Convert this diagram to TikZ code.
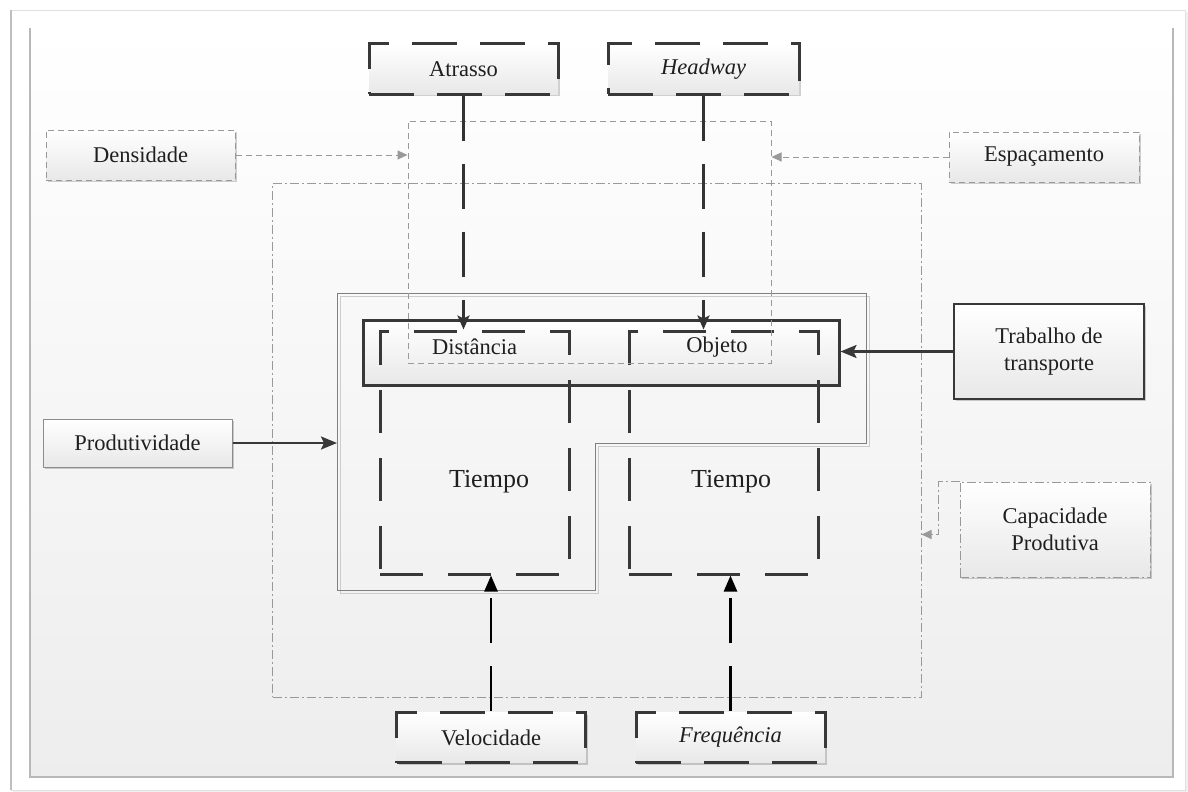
\documentclass[tikz,border=0pt]{standalone}
\usepackage{fontspec}
\setmainfont{Liberation Serif}
\usetikzlibrary{arrows.meta,shadows}
\begin{document}
\begin{tikzpicture}[x=1pt,y=-1pt,
  txt/.style={font=\fontsize{22.5}{27}\selectfont, text=black!88, align=center},
  big/.style={font=\fontsize{26}{30}\selectfont, text=black!88},
  boxfill/.style={top color=white, bottom color=black!9},
  shad/.style={drop shadow={shadow xshift=2pt, shadow yshift=-2pt, opacity=0.18, fill=black}},
  thickdash/.style={draw=black!78, line width=3pt, dash pattern=on 45pt off 23pt, boxfill, shad,
     minimum width=189pt, minimum height=50pt, inner sep=0pt, txt},
  graydash/.style={draw=black!40, line width=1pt, dash pattern=on 6pt off 4pt},
  dashdot/.style={draw=black!40, line width=1pt, dash pattern=on 9pt off 3pt on 2pt off 3pt},
  graybox/.style={graydash, boxfill, shad, minimum width=189pt, minimum height=50pt, inner sep=0pt, txt},
  solidbox/.style={draw=black!45, line width=1pt, boxfill, shad, minimum width=189pt, minimum height=48pt, inner sep=0pt, txt},
  longconn/.style={draw=black!80, line width=2.5pt, dash pattern=on 45pt off 23pt,
     -{Stealth[length=14pt,width=12pt,inset=3pt]}},
  upconn/.style={draw=black, line width=2.5pt, dash pattern=on 45pt off 23pt,
     -{Triangle[length=16pt,width=13pt]}},
  grayconn/.style={graydash, -{Triangle[length=10pt,width=9pt]}},
  dashdotconn/.style={dashdot, -{Triangle[length=10pt,width=9pt]}},
  solidconn/.style={draw=black!78, line width=2.2pt, -{Stealth[length=16pt,width=13pt,inset=3pt]}}
]
\useasboundingbox (0,0) rectangle (1188,792);
% page frames
\fill[white] (0,0) rectangle (1188,792);
\fill[black!6] (13,12) rectangle (1188,792);
\fill[white,draw=black!12] (11,10) rectangle (1185,790);
\draw[black!25, line width=2.5pt] (11,10) -- (11,790);
\shade[top color=white, bottom color=black!7] (30,28) rectangle (1173,777);
\draw[black!28, line width=1.2pt] (30,28) -- (30,777) -- (1173,777) -- (1173,28);

% large dash-dot region
\node[dashdot, minimum width=648.5pt, minimum height=514pt, inner sep=0pt] (cbox) at (596.75,440) {};

% thin L-shaped outline
\draw[black!20, line width=1pt] (340,296) -- (869,296) -- (869,446) -- (598,446) -- (598,593) -- (340,593) -- cycle;
\draw[black!50, line width=0.9pt] (337,293) -- (866,293) -- (866,443) -- (595,443) -- (595,590) -- (337,590) -- cycle;
\coordinate (lw) at (337,444);

% thick band
\node[draw=black!78, line width=3pt, boxfill, minimum width=476pt, minimum height=65pt, inner sep=0pt] (band) at (601,352.5) {};

% dashed time boxes
\node[draw=black!78, line width=3pt, dash pattern=on 43pt off 25pt, minimum width=189pt, minimum height=243pt, inner sep=0pt] (dt) at (474.5,452.5) {};
\node[draw=black!78, line width=3pt, dash pattern=on 43pt off 25pt, minimum width=189pt, minimum height=243pt, inner sep=0pt] (ob) at (723.5,452.5) {};
\node[txt] (dtl) at (474.5,347) {Distância};
\node[txt] (obl) at (717,347) {Objeto};
\node[big] (t1) at (489,482) {Tiempo};
\node[big] (t2) at (731,482) {Tiempo};

% gray dashed region
\node[graydash, minimum width=363pt, minimum height=242pt, inner sep=0pt] (gbox) at (589.5,242) {};

% top boxes
\node[thickdash] (atr) at (463.5,69) {Atrasso};
\node[thickdash, minimum width=191pt] (hw) at (703.5,69) {\itshape Headway};
% side boxes
\node[graybox] (den) at (140.5,155) {Densidade};
\node[graybox, minimum width=190pt] (esp) at (1044,157) {Espaçamento};
\node[solidbox] (prod) at (137.5,443) {Produtividade};
\node[draw=black!78, line width=2.5pt, boxfill, shad, minimum width=190pt, minimum height=95pt, inner sep=0pt, txt] (trab) at (1049,351.5) {Trabalho de\\transporte};
\node[dashdot, boxfill, shad, minimum width=190pt, minimum height=95pt, inner sep=0pt, txt] (cap) at (1055,529.5) {Capacidade\\Produtiva};
% bottom boxes
\node[thickdash] (vel) at (491,737.5) {Velocidade};
\node[thickdash] (freq) at (730.5,737.5) {\itshape Frequência};

% connectors
\draw[longconn] (atr.south) -- (atr.south |- dt.north);
\draw[longconn] (hw.south) -- (hw.south |- ob.north);
\draw[upconn] (vel.north) -- (vel.north |- dt.south);
\draw[upconn] (freq.north) -- (freq.north |- ob.south);
\draw[grayconn] (den.east) -- (den.east -| gbox.west);
\draw[grayconn] (esp.west) -- (esp.west -| gbox.east);
\draw[solidconn] (prod.east) -- (prod.east -| lw);
\draw[solidconn] (trab.west) -- (trab.west -| band.east);
\draw[dashdotconn] (cap.north west) -- ++(-21,0) -- ++(0,53) coordinate (capbend) -- (capbend -| cbox.east);
\end{tikzpicture}
\end{document}
